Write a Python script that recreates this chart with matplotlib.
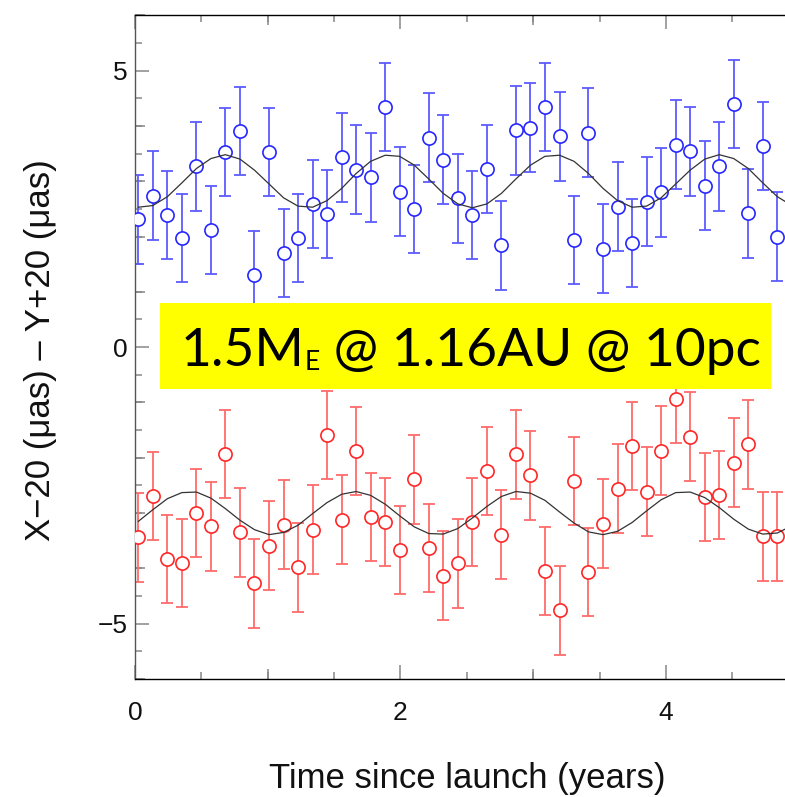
import matplotlib
matplotlib.use("Agg")
import matplotlib.pyplot as plt
from matplotlib.patches import Rectangle

# ---------------- data ----------------
t_years = [0.025, 0.134, 0.244, 0.353, 0.463, 0.572, 0.681, 0.791, 0.900, 1.010,
           1.119, 1.228, 1.338, 1.447, 1.557, 1.666, 1.775, 1.885, 1.994, 2.104,
           2.213, 2.322, 2.432, 2.541, 2.651, 2.760, 2.869, 2.979, 3.088, 3.198,
           3.307, 3.416, 3.526, 3.635, 3.745, 3.854, 3.963, 4.073, 4.182, 4.292,
           4.401, 4.510, 4.620, 4.729, 4.839, 4.948]

x_minus20 = [2.31, 2.74, 2.39, 1.97, 3.27, 2.12, 3.53, 3.91, 1.30, 3.53,
             1.70, 1.97, 2.59, 2.41, 3.43, 3.21, 3.07, 4.34, 2.81, 2.50,
             3.79, 3.39, 2.69, 2.39, 3.22, 1.84, 3.92, 3.97, 4.34, 3.81,
             1.94, 3.88, 1.78, 2.54, 1.88, 2.63, 2.80, 3.66, 3.54, 2.92,
             3.27, 4.40, 2.42, 3.64, 2.00, 1.34]

y_plus20 = [-3.44, -2.69, -3.83, -3.90, -3.00, -3.24, -1.93, -3.35, -4.27, -3.59,
            -3.21, -3.98, -3.30, -1.59, -3.12, -1.88, -3.07, -3.16, -3.67, -2.39,
            -3.63, -4.13, -3.91, -3.16, -2.24, -3.39, -1.94, -2.32, -4.05, -4.76,
            -2.42, -4.07, -3.19, -2.56, -1.79, -2.61, -1.87, -0.93, -1.62, -2.71,
            -2.67, -2.09, -1.76, -3.42, -3.42, -3.86]

x_model = [2.53, 2.56, 2.72, 2.97, 3.23, 3.41, 3.48, 3.40, 3.20, 2.95,
           2.70, 2.55, 2.53, 2.65, 2.87, 3.14, 3.36, 3.47, 3.45, 3.29,
           3.04, 2.78, 2.59, 2.52, 2.59, 2.78, 3.04, 3.29, 3.45, 3.47,
           3.36, 3.14, 2.87, 2.65, 2.53, 2.55, 2.70, 2.95, 3.20, 3.40,
           3.48, 3.41, 3.23, 2.97, 2.72, 2.56]

y_model = [-3.15, -2.94, -2.74, -2.63, -2.62, -2.73, -2.92, -3.13, -3.30, -3.39,
           -3.35, -3.22, -3.01, -2.81, -2.66, -2.61, -2.68, -2.84, -3.05, -3.25,
           -3.37, -3.38, -3.28, -3.09, -2.88, -2.70, -2.61, -2.64, -2.77, -2.98,
           -3.18, -3.34, -3.39, -3.33, -3.17, -2.96, -2.76, -2.63, -2.62, -2.72,
           -2.90, -3.11, -3.29, -3.38, -3.36, -3.23]

sigma = 0.8  # per-point error (uas)

x_major = [0, 2, 4]
x_medium = [1, 3, 5]
y_major = [-5, 0, 5]
y_medium = [-6, -4, -3, -2, -1, 1, 2, 3, 4, 6]

xlabel = "Time since launch (years)"
ylabel = "X\u221220 (\u03bcas) \u2013 Y+20 (\u03bcas)"
banner_a = "1.5M"
banner_sub = "E"
banner_b = " @ 1.16AU @ 10pc"

# ---------------- figure ----------------
plt.rcParams['font.family'] = ['Liberation Sans', 'DejaVu Sans']
fig = plt.figure(figsize=(7.85, 7.97), dpi=100)
ax = fig.add_axes([0.17197, 0.14806, 0.84554, 0.83275])

blue_bar = (0.36, 0.36, 1.0)
blue_mk = (0.15, 0.15, 1.0)
red_bar = (1.0, 0.42, 0.42)
red_mk = (1.0, 0.15, 0.15)

ax.errorbar(t_years, x_minus20, yerr=sigma, fmt='none', ecolor=blue_bar,
            elinewidth=1.3, capsize=4, capthick=1.3, zorder=2)
ax.plot(t_years, x_minus20, 'o', ms=9.5, mfc='white', mec=blue_mk, mew=1.2, zorder=3)
ax.errorbar(t_years, y_plus20, yerr=sigma, fmt='none', ecolor=red_bar,
            elinewidth=1.3, capsize=4, capthick=1.3, zorder=2)
ax.plot(t_years, y_plus20, 'o', ms=9.5, mfc='white', mec=red_mk, mew=1.2, zorder=3)

ax.plot(t_years, x_model, color='#333333', lw=0.9, zorder=4)
ax.plot(t_years, y_model, color='#333333', lw=0.9, zorder=4)

ax.set_xlim(0, 5)
ax.set_ylim(-6, 6)

# spines
ax.spines['left'].set_color('#555555')
for s in ['top', 'bottom', 'right']:
    ax.spines[s].set_color('black')
for s in ax.spines.values():
    s.set_linewidth(1.0)

tick_col = '#888888'
ax.set_xticks(x_major)
ax.set_xticklabels([str(v) for v in x_major])
ax.set_yticks(y_major)
ax.set_yticklabels(['\u22125', '0', '5'])
ax.xaxis.set_minor_locator(matplotlib.ticker.MultipleLocator(0.5))
ax.yaxis.set_minor_locator(matplotlib.ticker.MultipleLocator(0.5))
ax.tick_params(which='major', direction='in', length=10, width=1.1, color=tick_col,
               top=True, right=True, labelsize=19, labelcolor='#111111')
ax.tick_params(which='minor', direction='in', length=5, width=1.1, color=tick_col,
               top=True, right=True)
ax.tick_params(axis='x', which='major', pad=15.5)
ax.tick_params(axis='y', which='major', pad=5.5)

for loc in ['top', 'bottom']:
    sx = ax.secondary_xaxis(loc)
    sx.set_xticks(x_medium)
    sx.tick_params(direction='in', length=7.2, width=1.1, color=tick_col,
                   labelbottom=False, labeltop=False)
    for s in sx.spines.values():
        s.set_visible(False)
sy = ax.secondary_yaxis('left')
sy.set_yticks(y_medium)
sy.tick_params(direction='in', length=7.2, width=1.1, color=tick_col, labelleft=False)
for s in sy.spines.values():
    s.set_visible(False)

ax.set_xlabel(xlabel, fontsize=25, color='#111111')
ax.xaxis.set_label_coords(0.5, -0.125)
ax.set_ylabel(ylabel, fontsize=25, color='#111111')
ax.yaxis.set_label_coords(-0.1175, 0.496)

# yellow banner
ax.add_patch(Rectangle((0.0377, 0.4369), 0.9205, 0.1296, transform=ax.transAxes,
                       facecolor='#FFFF00', edgecolor='none', zorder=5, clip_on=False))
fs = 38.3
t1 = ax.text(0.0690, 0.4721, banner_a, transform=ax.transAxes, fontsize=fs,
             family='Lato', va='baseline', ha='left', zorder=6)
t2 = ax.annotate(banner_sub, xy=(1, 0), xycoords=t1, fontsize=fs * 0.5,
                 family='Lato', va='bottom', ha='left', zorder=6)
t3 = ax.annotate(banner_b, xy=(1, 0), xycoords=(t2, t1), fontsize=fs,
                 family='Lato', va='bottom', ha='left', zorder=6)

fig.savefig('out.png', dpi=100, facecolor='white')
